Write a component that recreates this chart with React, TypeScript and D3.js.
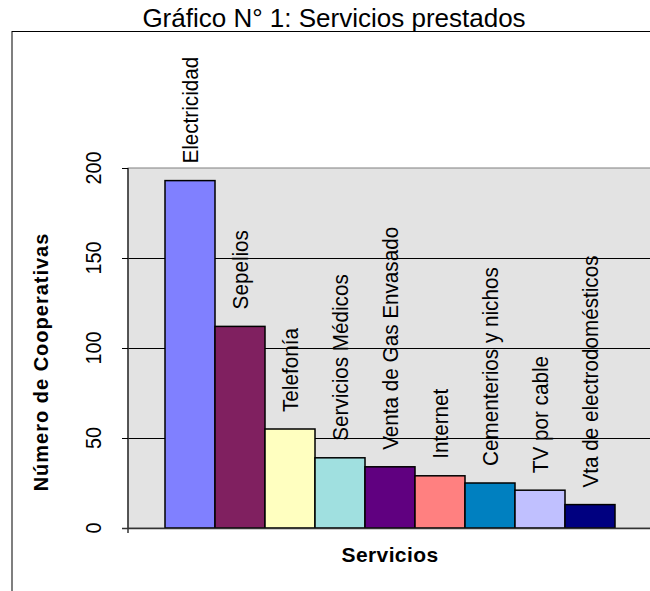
import React, { useEffect, useRef } from 'react';
import * as d3 from 'd3';

// Data
const servicios = [
  'Electricidad',
  'Sepelios',
  'Telefonía',
  'Servicios Médicos',
  'Venta de Gas Envasado',
  'Internet',
  'Cementerios y nichos',
  'TV por cable',
  'Vta de electrodomésticos',
];
const cooperativas = [193, 112, 55, 39, 34, 29, 25, 21, 13];
const barColors = [
  '#8080FF', '#802060', '#FFFFC0', '#A0E0E0', '#600080',
  '#FF8080', '#0080C0', '#C0C0FF', '#000080',
];
const yTicks = [0, 50, 100, 150, 200];

const App = () => {
  const svgRef = useRef<SVGSVGElement>(null);

  useEffect(() => {
    if (svgRef.current) {
      drawChart(svgRef.current);
    }
  }, []);

  return (
    <svg
      ref={svgRef}
      width={650}
      height={591}
      style={{ position: 'absolute', left: 0, top: 0, background: '#fff' }}
    />
  );
};

function drawChart(node: SVGSVGElement) {
  const svg = d3.select(node);
  svg.selectAll('*').remove();

  const font = 'Liberation Sans, Arial, sans-serif';

  // plot area bounds
  const left = 128;
  const right = 652;
  const top = 168;
  const bottom = 528;

  const data = servicios.map((s, i) => ({ name: s, value: cooperativas[i], color: barColors[i] }));

  const x = d3.scaleBand<string>()
    .domain(servicios)
    .range([165, 615])
    .padding(0);

  const y = d3.scaleLinear()
    .domain([0, 200])
    .range([bottom, top]);

  // outer chart frame
  svg.append('rect')
    .attr('x', 12)
    .attr('y', 31.5)
    .attr('width', 700)
    .attr('height', 700)
    .attr('fill', 'none')
    .attr('stroke', '#000')
    .attr('stroke-width', 1);

  // title
  svg.append('text')
    .attr('x', 334)
    .attr('y', 27)
    .attr('text-anchor', 'middle')
    .style('font-family', font)
    .style('font-size', '26px')
    .style('fill', '#000')
    .text('Gráfico N° 1: Servicios prestados');

  // plot background
  svg.append('rect')
    .attr('x', left)
    .attr('y', top)
    .attr('width', right - left)
    .attr('height', bottom - top)
    .attr('fill', '#e3e3e3')
    .attr('stroke', '#808080')
    .attr('stroke-width', 1);

  // gridlines
  svg.append('g')
    .selectAll('line')
    .data(yTicks.filter(t => t > 0 && t < 200))
    .enter()
    .append('line')
    .attr('x1', left)
    .attr('x2', right)
    .attr('y1', d => Math.round(y(d)) + 0.5)
    .attr('y2', d => Math.round(y(d)) + 0.5)
    .attr('stroke', '#000')
    .attr('stroke-width', 1);

  // bars
  svg.append('g')
    .selectAll('rect')
    .data(data)
    .enter()
    .append('rect')
    .attr('x', d => x(d.name)!)
    .attr('y', d => y(d.value))
    .attr('width', x.bandwidth())
    .attr('height', d => bottom - y(d.value))
    .attr('fill', d => d.color)
    .attr('stroke', '#000')
    .attr('stroke-width', 1.5);

  // category labels above bars
  svg.append('g')
    .selectAll('text')
    .data(data)
    .enter()
    .append('text')
    .attr('transform', d => `translate(${x(d.name)! + x.bandwidth() / 2 + 8},${y(d.value) - 17}) rotate(-90) scale(0.94,1)`)
    .attr('text-anchor', 'start')
    .style('font-family', font)
    .style('font-size', '22px')
    .style('fill', '#000')
    .text(d => d.name);

  // y axis
  const yAxis = svg.append('g')
    .attr('transform', `translate(${left},0)`)
    .call(d3.axisLeft(y).tickValues(yTicks).tickSize(6).tickFormat(() => ''));
  yAxis.select('.domain')
    .attr('stroke', '#333')
    .attr('stroke-width', 1.5)
    .attr('d', `M0,${top}V${bottom + 5}`);
  yAxis.selectAll('.tick line').attr('stroke', '#000');

  // x axis line
  svg.append('line')
    .attr('x1', left - 6)
    .attr('x2', right)
    .attr('y1', bottom + 0.5)
    .attr('y2', bottom + 0.5)
    .attr('stroke', '#333')
    .attr('stroke-width', 1.5);

  // y tick labels, rotated
  svg.append('g')
    .selectAll('text')
    .data(yTicks)
    .enter()
    .append('text')
    .attr('transform', d => `translate(101,${y(d)}) rotate(-90) scale(0.9,1)`)
    .attr('text-anchor', 'middle')
    .style('font-family', font)
    .style('font-size', '22px')
    .style('fill', '#000')
    .text(d => d);

  // axis titles
  svg.append('text')
    .attr('transform', `translate(48,362) rotate(-90)`)
    .attr('text-anchor', 'middle')
    .style('font-family', font)
    .style('font-size', '20px')
    .style('font-weight', 'bold')
    .style('letter-spacing', '1px')
    .style('fill', '#000')
    .text('Número de Cooperativas');

  svg.append('text')
    .attr('x', 390)
    .attr('y', 562)
    .attr('text-anchor', 'middle')
    .style('font-family', font)
    .style('font-size', '21px')
    .style('font-weight', 'bold')
    .style('letter-spacing', '0.4px')
    .style('fill', '#000')
    .text('Servicios');
}

export default App;
